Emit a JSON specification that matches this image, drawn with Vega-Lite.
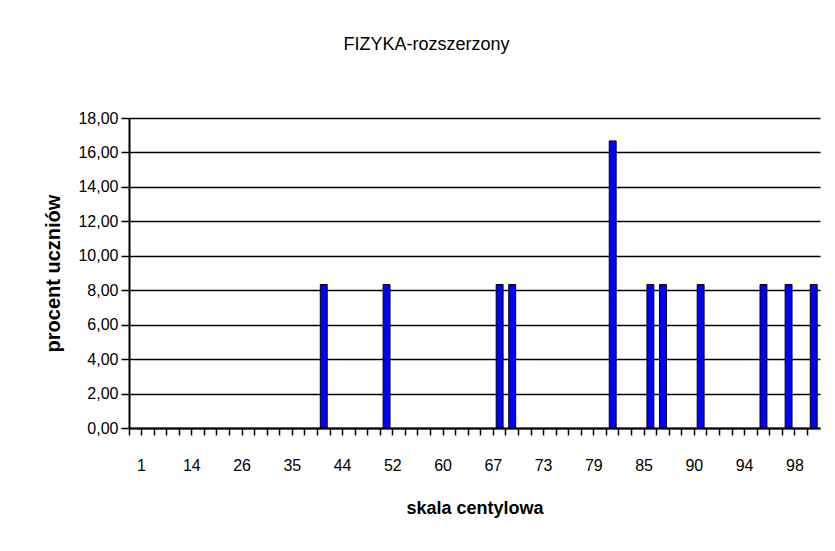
{
  "$schema": "https://vega.github.io/schema/vega-lite/v6.json",
  "width": 691,
  "height": 310,
  "autosize": {"type": "none"},
  "padding": {"left": 129, "top": 118, "right": 15, "bottom": 123},
  "background": "white",
  "config": {"view": {"stroke": null}},
  "title": {
    "text": "FIZYKA-rozszerzony",
    "font": "Liberation Sans",
    "fontSize": 18,
    "fontWeight": "normal",
    "color": "black",
    "anchor": "middle",
    "dx": -48,
    "offset": 56
  },
  "data": {
    "values": [
      {"c": "1", "v": 0}, {"c": "4", "v": 0}, {"c": "7", "v": 0}, {"c": "11", "v": 0},
      {"c": "14", "v": 0}, {"c": "17", "v": 0}, {"c": "20", "v": 0}, {"c": "23", "v": 0},
      {"c": "26", "v": 0}, {"c": "28", "v": 0}, {"c": "30", "v": 0}, {"c": "33", "v": 0},
      {"c": "35", "v": 0}, {"c": "37", "v": 0}, {"c": "40", "v": 0}, {"c": "42", "v": 8.33},
      {"c": "44", "v": 0}, {"c": "46", "v": 0}, {"c": "48", "v": 0}, {"c": "50", "v": 0},
      {"c": "52", "v": 8.33}, {"c": "54", "v": 0}, {"c": "56", "v": 0}, {"c": "58", "v": 0},
      {"c": "60", "v": 0}, {"c": "62", "v": 0}, {"c": "64", "v": 0}, {"c": "66", "v": 0},
      {"c": "67", "v": 0}, {"c": "69", "v": 8.33}, {"c": "70", "v": 8.33}, {"c": "72", "v": 0},
      {"c": "73", "v": 0}, {"c": "75", "v": 0}, {"c": "76", "v": 0}, {"c": "78", "v": 0},
      {"c": "79", "v": 0}, {"c": "81", "v": 0}, {"c": "82", "v": 16.67}, {"c": "84", "v": 0},
      {"c": "85", "v": 0}, {"c": "86", "v": 8.33}, {"c": "87", "v": 8.33}, {"c": "89", "v": 0},
      {"c": "90", "v": 0}, {"c": "91", "v": 8.33}, {"c": "92", "v": 0}, {"c": "93", "v": 0},
      {"c": "94", "v": 0}, {"c": "95", "v": 0}, {"c": "96", "v": 8.33}, {"c": "97", "v": 0},
      {"c": "98", "v": 8.33}, {"c": "99", "v": 0}, {"c": "100", "v": 8.33}
    ]
  },
  "mark": {"type": "bar", "fill": "#0000FF", "stroke": "black", "strokeWidth": 1, "width": {"band": 0.55}},
  "encoding": {
    "strokeOpacity": {"condition": {"test": "datum.v == 0", "value": 0}, "value": 1},
    "x": {
      "field": "c",
      "type": "ordinal",
      "sort": null,
      "scale": {"paddingInner": 0, "paddingOuter": 0},
      "axis": {
        "title": "skala centylowa",
        "titleFont": "Liberation Sans",
        "titleFontSize": 18,
        "titleFontWeight": "bold",
        "titleColor": "black",
        "titlePadding": 26,
        "labelAngle": 0,
        "labelFont": "Liberation Sans",
        "labelFontSize": 16,
        "labelColor": "black",
        "labelPadding": 22,
        "labelOverlap": false,
        "labelOffset": 6.28,
        "bandPosition": 0,
        "labelExpr": "indexof(['1','14','26','35','44','52','60','67','73','79','85','90','94','98'], datum.label) >= 0 ? datum.label : ''",
        "tickSize": 7,
        "tickColor": "black",
        "tickWidth": 1.5,
        "domainColor": "black",
        "domainWidth": 2,
        "grid": false
      }
    },
    "y": {
      "field": "v",
      "type": "quantitative",
      "scale": {"domain": [0, 18], "nice": false},
      "axis": {
        "title": "procent uczniów",
        "titleFont": "Liberation Sans",
        "titleFontSize": 20,
        "titleFontWeight": "bold",
        "titleColor": "black",
        "titlePadding": 14,
        "values": [0, 2, 4, 6, 8, 10, 12, 14, 16, 18],
        "labelExpr": "replace(format(datum.value, '.2f'), '.', ',')",
        "labelFont": "Liberation Sans",
        "labelFontSize": 16,
        "labelColor": "black",
        "labelPadding": 3,
        "tickSize": 8,
        "tickColor": "black",
        "tickWidth": 1.5,
        "domainColor": "black",
        "domainWidth": 2,
        "grid": true,
        "gridColor": "black",
        "gridWidth": 1.5,
        "gridOpacity": 1
      }
    }
  }
}
